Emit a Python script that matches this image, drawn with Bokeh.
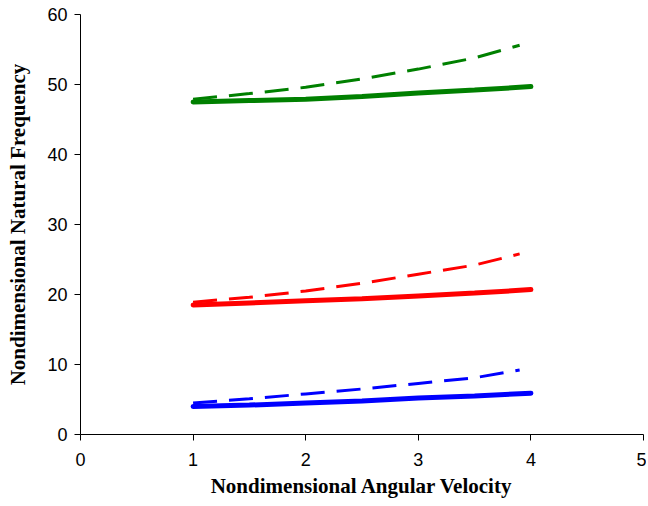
from bokeh.plotting import figure
from bokeh.models import Range1d, FixedTicker
from bokeh.embed import file_html
from bokeh.resources import INLINE

x_solid = [1.0, 1.5, 2.0, 2.5, 3.0, 3.5, 4.0]
x_dash = [1.0, 1.5, 2.0, 2.5, 3.0, 3.5, 3.9]

green_solid = [47.5, 47.7, 47.9, 48.3, 48.8, 49.2, 49.7]
green_dash = [47.9, 48.7, 49.6, 50.8, 52.2, 53.8, 55.6]
red_solid = [18.5, 18.8, 19.1, 19.4, 19.8, 20.2, 20.7]
red_dash = [18.9, 19.6, 20.5, 21.6, 22.9, 24.2, 25.8]
blue_solid = [4.0, 4.2, 4.5, 4.8, 5.2, 5.5, 5.9]
blue_dash = [4.5, 5.1, 5.8, 6.5, 7.3, 8.1, 9.2]

x_ticks = [0, 1, 2, 3, 4, 5]
y_ticks = [0, 10, 20, 30, 40, 50, 60]

p = figure(width=646, height=504, output_backend="svg", toolbar_location=None,
           x_range=Range1d(0, 5), y_range=Range1d(0, 60),
           min_border_left=80, min_border_right=3, min_border_top=14, min_border_bottom=70)
p.outline_line_color = None
p.xgrid.visible = False
p.ygrid.visible = False
p.background_fill_color = "white"

for ys, color in [(green_solid, "green"), (red_solid, "red"), (blue_solid, "blue")]:
    p.line(x_solid, ys, line_color=color, line_width=5, line_cap="round")
for ys, color in [(green_dash, "green"), (red_dash, "red"), (blue_dash, "blue")]:
    p.line(x_dash, ys, line_color=color, line_width=3, line_dash="24 12")

for ax in (p.xaxis[0], p.yaxis[0]):
    ax.axis_line_color = "black"
    ax.major_tick_line_color = "black"
    ax.minor_tick_line_color = None
    ax.major_tick_out = 6
    ax.major_tick_in = 0
    ax.major_label_text_font = "Liberation Sans"
    ax.major_label_text_font_size = "18px"
    ax.major_label_text_color = "black"
    ax.axis_label_text_font = "Liberation Serif"
    ax.axis_label_text_font_style = "bold"
    ax.axis_label_text_font_size = "21px"
    ax.axis_label_text_color = "black"

p.xaxis.ticker = FixedTicker(ticks=x_ticks)
p.yaxis.ticker = FixedTicker(ticks=y_ticks)
p.xaxis.axis_label = "Nondimensional Angular Velocity"
p.yaxis.axis_label = "Nondimensional Natural Frequency"
p.xaxis.major_label_standoff = 12
p.yaxis.major_label_standoff = 7
p.xaxis.axis_label_standoff = 5
p.yaxis.axis_label_standoff = 14

open("out.html", "w").write(file_html(p, INLINE))
